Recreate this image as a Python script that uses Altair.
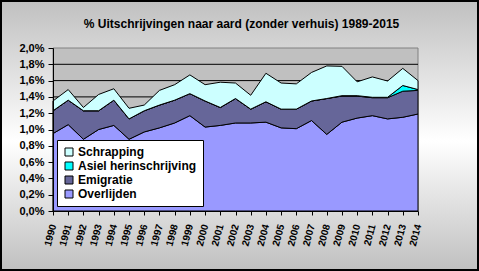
import altair as alt
import pandas as pd

years = list(range(1990, 2015))
overlijden = [0.95, 1.06, 0.88, 1.00, 1.05, 0.88, 0.97, 1.02, 1.08, 1.17, 1.03, 1.05, 1.08,
              1.08, 1.09, 1.02, 1.01, 1.11, 0.94, 1.09, 1.14, 1.17, 1.13, 1.15, 1.19]
emigratie = [0.28, 0.30, 0.35, 0.23, 0.31, 0.25, 0.26, 0.28, 0.28, 0.27, 0.32, 0.22, 0.30,
             0.17, 0.25, 0.23, 0.24, 0.24, 0.44, 0.32, 0.27, 0.22, 0.26, 0.32, 0.29]
asiel = [0.0, 0.0, 0.0, 0.0, 0.0, 0.0, 0.0, 0.0, 0.0, 0.0, 0.0, 0.0, 0.0,
         0.0, 0.0, 0.0, 0.0, 0.0, 0.0, 0.005, 0.005, 0.005, 0.005, 0.07, 0.01]
schrapping = [0.12, 0.13, 0.04, 0.20, 0.14, 0.13, 0.07, 0.18, 0.19, 0.23, 0.20, 0.31, 0.19,
              0.17, 0.35, 0.32, 0.31, 0.35, 0.40, 0.36, 0.17, 0.25, 0.20, 0.21, 0.11]

title_text = "% Uitschrijvingen naar aard (zonder verhuis) 1989-2015"
series_names = ["Overlijden", "Emigratie", "Asiel herinschrijving", "Schrapping"]
series_values = [overlijden, emigratie, asiel, schrapping]
legend_order = ["Schrapping", "Asiel herinschrijving", "Emigratie", "Overlijden"]
legend_colors = ["#CCFFFF", "#00FFFF", "#666699", "#9999FF"]
grid_values = [0.2, 0.4, 0.6, 0.8, 1.0, 1.2, 1.4, 1.6, 1.8]
y_ticks = [0.0, 0.2, 0.4, 0.6, 0.8, 1.0, 1.2, 1.4, 1.6, 1.8, 2.0]

rows = []
for i, (name, vals) in enumerate(zip(series_names, series_values)):
    for y, v in zip(years, vals):
        rows.append({"jaar": y, "reeks": name, "waarde": v, "volgorde": i})
df = pd.DataFrame(rows)

W, H = 365, 163
PL, PT, PR, PB = 53, 48, 61, 60

background = alt.Chart(alt.Data(values=[{}])).mark_rect(
    fill=alt.LinearGradient(
        gradient="linear", x1=0, x2=0, y1=0, y2=1,
        stops=[alt.GradientStop(color="#C0C0C0", offset=0),
               alt.GradientStop(color="#FFFFFF", offset=0.52),
               alt.GradientStop(color="#C0C0C0", offset=1)]),
    stroke="black", strokeWidth=2,
).encode(
    x=alt.value(-PL + 1), x2=alt.value(W + PR - 1),
    y=alt.value(-PT + 1), y2=alt.value(H + PB - 1),
)

title = alt.Chart(alt.Data(values=[{"t": title_text}])).mark_text(
    font="Liberation Sans", fontSize=12, fontWeight="bold", color="black",
    align="center", baseline="middle",
).encode(
    text="t:N", x=alt.value(W / 2 + 6), y=alt.value(-24),
)

plotbg = alt.Chart(alt.Data(values=[{}])).mark_rect(
    fill="#C0C0C0", stroke="#808080", strokeWidth=1,
).encode(
    x=alt.value(0), x2=alt.value(W), y=alt.value(0), y2=alt.value(H),
)

yaxis = alt.Axis(values=y_ticks, title=None, grid=False,
                 labelExpr="replace(format(datum.value, '.1f'), '.', ',') + '%'",
                 tickSize=5, tickColor="black", domainColor="black",
                 labelFont="Liberation Sans", labelFontWeight="bold",
                 labelFontSize=11, labelColor="black", labelPadding=4,
                 labelOverlap=False, labelFlush=False, zindex=1)

grid = alt.Chart(pd.DataFrame({"g": grid_values})).mark_rule(
    color="black", strokeWidth=1
).encode(
    y=alt.Y("g:Q", scale=alt.Scale(domain=[0, 2], nice=False), axis=yaxis),
)

areas = alt.Chart(df).mark_area(
    stroke="black", strokeWidth=1, interpolate="linear"
).encode(
    x=alt.X("jaar:Q", scale=alt.Scale(domain=[1990, 2014], nice=False, zero=False),
            axis=alt.Axis(values=years, format="d", title=None, grid=False,
                          labelAngle=-75, labelAlign="right", labelBaseline="middle",
                          labelPadding=9, tickSize=4, tickColor="black",
                          domainColor="black", labelFont="Liberation Sans",
                          labelFontWeight="bold", labelFontSize=10,
                          labelColor="black", zindex=1, labelOverlap=False)),
    y=alt.Y("waarde:Q", stack="zero",
            scale=alt.Scale(domain=[0, 2], nice=False), axis=yaxis),
    color=alt.Color("reeks:N",
                    scale=alt.Scale(domain=legend_order, range=legend_colors),
                    legend=alt.Legend(title=None, orient="none", legendX=4, legendY=92,
                                      fillColor="white", strokeColor="black",
                                      padding=6, symbolType="square", symbolSize=64,
                                      symbolStrokeColor="black", symbolStrokeWidth=1,
                                      labelFont="Liberation Sans", labelFontWeight="bold",
                                      labelFontSize=12, labelColor="black",
                                      rowPadding=2, labelOffset=3, zindex=1)),
    order=alt.Order("volgorde:Q", sort="ascending"),
)

chart = alt.layer(background, title, plotbg, grid, areas).properties(
    width=W, height=H,
    autosize=alt.AutoSizeParams(type="none"),
    padding={"left": PL, "top": PT, "right": PR, "bottom": PB},
).configure_view(stroke=None).configure(background="#C0C0C0")

chart.save("out.html", embed_options={"renderer": "svg", "actions": False})
